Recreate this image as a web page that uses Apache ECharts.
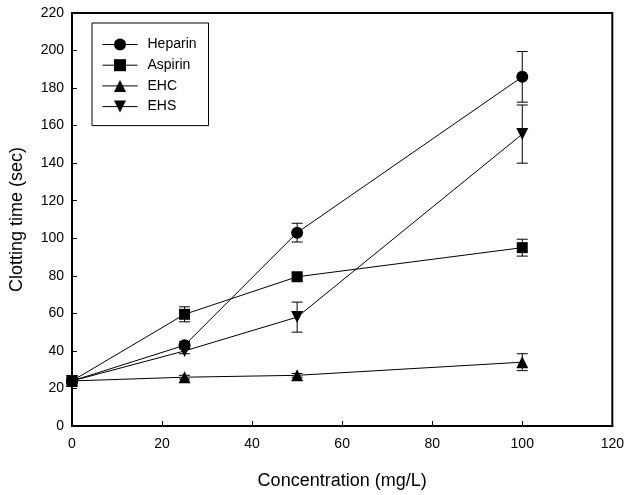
<!DOCTYPE html>
<html>
<head>
<meta charset="utf-8">
<script src="https://cdn.jsdelivr.net/npm/echarts@6/dist/echarts.min.js"></script>
<style>html,body{margin:0;padding:0;background:#fff}#c{width:627px;height:495px}</style>
</head>
<body>
<div id="c"></div>
<script>
const concentrations = [0, 25, 50, 100];
const seriesNames = ['Heparin', 'Aspirin', 'EHC', 'EHS'];
const heparin = [24, 43, 103, 186];
const heparinErr = [1, 2, 5, 13.5];
const aspirin = [24, 59.5, 79.5, 95];
const aspirinErr = [1, 4, 2, 4.5];
const ehc = [24, 26, 27, 34];
const ehcErr = [1, 1, 1, 4.5];
const ehs = [24, 40, 58, 155.5];
const ehsErr = [1, 1.5, 8, 15.5];
const xTicks = [0, 20, 40, 60, 80, 100, 120];
const yTicks = [0, 20, 40, 60, 80, 100, 120, 140, 160, 180, 200, 220];

const symbols = ['circle', 'rect', 'triangle', 'path://M0,0 L10,0 L5,9 Z'];
const sizes = [12, 11, 12, 12];
const values = [heparin, aspirin, ehc, ehs];
const errors = [heparinErr, aspirinErr, ehcErr, ehsErr];
const FONT = '"Liberation Sans", Arial, sans-serif';

const chart = echarts.init(document.getElementById('c'), null, {renderer: 'canvas'});

const series = [];
values.forEach((vals, i) => {
  series.push({
    type: 'custom',
    name: seriesNames[i] + ' err',
    data: concentrations.map((x, j) => [x, vals[j] - errors[i][j], vals[j] + errors[i][j]]),
    renderItem: function (params, api) {
      const lo = api.coord([api.value(0), api.value(1)]);
      const hi = api.coord([api.value(0), api.value(2)]);
      const w = 5.5;
      return {
        type: 'group',
        children: [
          {type: 'line', shape: {x1: lo[0], y1: lo[1], x2: hi[0], y2: hi[1]}, style: {stroke: '#000', lineWidth: 1}},
          {type: 'line', shape: {x1: lo[0] - w, y1: lo[1], x2: lo[0] + w, y2: lo[1]}, style: {stroke: '#000', lineWidth: 1}},
          {type: 'line', shape: {x1: hi[0] - w, y1: hi[1], x2: hi[0] + w, y2: hi[1]}, style: {stroke: '#000', lineWidth: 1}}
        ]
      };
    },
    z: 1,
    silent: true
  });
});
values.forEach((vals, i) => {
  series.push({
    type: 'line',
    name: seriesNames[i],
    data: concentrations.map((x, j) => [x, vals[j]]),
    symbol: symbols[i],
    symbolSize: sizes[i],
    showSymbol: true,
    lineStyle: {color: '#000', width: 1},
    itemStyle: {color: '#000', borderWidth: 0},
    z: 3,
    animation: false
  });
});

chart.setOption({
  animation: false,
  backgroundColor: '#fff',
  grid: {left: 71, right: 13, top: 13, bottom: 66, show: true, borderColor: '#000', borderWidth: 2, containLabel: false},
  legend: {
    data: seriesNames,
    orient: 'vertical',
    left: 92, top: 23,
    padding: [14.5, 12, 12, 10],
    itemWidth: 35, itemHeight: 15,
    itemGap: 6.7,
    borderColor: '#000', borderWidth: 1,
    backgroundColor: '#fff',
    textStyle: {fontFamily: FONT, fontSize: 14, color: '#000', padding: [0, 0, 0, 5]},
    itemStyle: {color: '#000'},
    lineStyle: {color: '#000', width: 1}
  },
  xAxis: {
    type: 'value', min: 0, max: 120, interval: 20,
    name: 'Concentration (mg/L)', nameLocation: 'middle', nameGap: 46,
    nameTextStyle: {fontFamily: FONT, fontSize: 18, color: '#000'},
    axisLine: {show: true, lineStyle: {color: '#000', width: 2}},
    axisTick: {show: true, inside: true, length: 5, lineStyle: {color: '#000', width: 1}},
    axisLabel: {fontFamily: FONT, fontSize: 14, color: '#000', margin: 11,
      formatter: v => xTicks.includes(v) ? String(v) : ''},
    splitLine: {show: false}
  },
  yAxis: {
    type: 'value', min: 0, max: 220, interval: 20,
    name: 'Clotting time (sec)', nameLocation: 'middle', nameGap: 46,
    nameTextStyle: {fontFamily: FONT, fontSize: 18, color: '#000'},
    axisLine: {show: true, lineStyle: {color: '#000', width: 2}},
    axisTick: {show: true, inside: true, length: 5, lineStyle: {color: '#000', width: 1}},
    axisLabel: {fontFamily: FONT, fontSize: 14, color: '#000', margin: 8,
      formatter: v => yTicks.includes(v) ? String(v) : ''},
    splitLine: {show: false}
  },
  series: series
});
</script>
</body>
</html>
